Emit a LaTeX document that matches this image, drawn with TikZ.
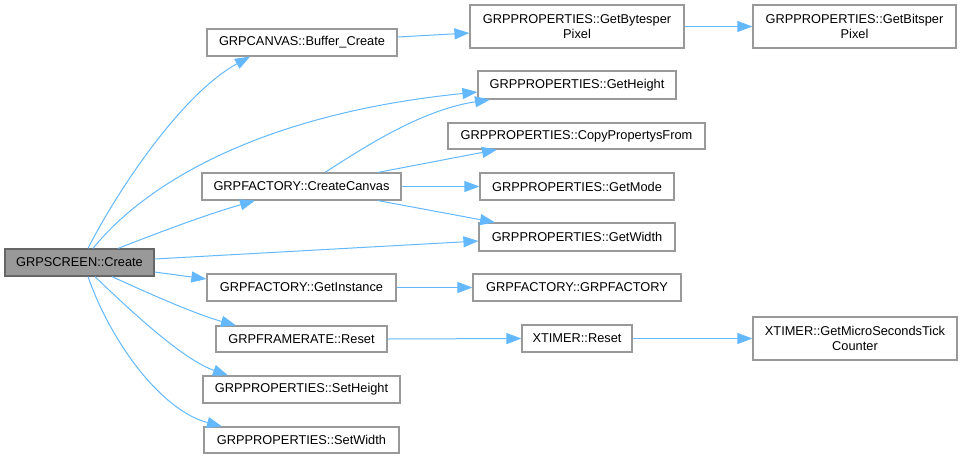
\documentclass[tikz,border=0pt]{standalone}
\usepackage{fontspec}
\setmainfont{Liberation Sans}
\usetikzlibrary{arrows.meta}
\definecolor{edgeblue}{HTML}{63B8FF}
\definecolor{boxgray}{HTML}{999999}
\definecolor{darkgray}{HTML}{666666}
\tikzset{
  fn/.style={draw=boxgray, fill=white, line width=1.2pt, inner sep=0pt, align=center,
    font=\fontsize{12.8pt}{15.5pt}\selectfont, text=black},
  root/.style={fn, fill=boxgray, draw=darkgray},
  call/.style={draw=edgeblue, line width=1pt, -{Triangle[length=15pt, width=11pt]}, fill=none},
}
\begin{document}
\begin{tikzpicture}[x=1pt, y=-1pt]
\useasboundingbox (0,0) rectangle (962,459);
% nodes
\node[root, minimum width=149pt, minimum height=27pt] (cre) at (79.5,262.5) {GRPSCREEN::Create};
\node[fn, minimum width=190pt, minimum height=27pt] (buf) at (302,42.5) {GRPCANVAS::Buffer\_Create};
\node[fn, minimum width=199pt, minimum height=27pt] (cc) at (301.5,186.5) {GRPFACTORY::CreateCanvas};
\node[fn, minimum width=189pt, minimum height=27pt] (gi) at (301.5,287.5) {GRPFACTORY::GetInstance};
\node[fn, minimum width=171pt, minimum height=26pt] (fr) at (301.5,339) {GRPFRAMERATE::Reset};
\node[fn, minimum width=197pt, minimum height=27pt] (sh) at (301.5,389.5) {GRPPROPERTIES::SetHeight};
\node[fn, minimum width=195pt, minimum height=26pt] (sw) at (301.5,440) {GRPPROPERTIES::SetWidth};
\node[fn, minimum width=214pt, minimum height=43pt] (gbp) at (577,26.5) {GRPPROPERTIES::GetBytesper\\Pixel};
\node[fn, minimum width=203pt, minimum height=43pt] (gbit) at (854.5,26.5) {GRPPROPERTIES::GetBitsper\\Pixel};
\node[fn, minimum width=198pt, minimum height=28pt] (gh) at (577,85) {GRPPROPERTIES::GetHeight};
\node[fn, minimum width=257pt, minimum height=26pt] (cpf) at (576.5,136) {GRPPROPERTIES::CopyPropertysFrom};
\node[fn, minimum width=194pt, minimum height=27pt] (gm) at (577,186.5) {GRPPROPERTIES::GetMode};
\node[fn, minimum width=196pt, minimum height=28pt] (gw) at (577,237) {GRPPROPERTIES::GetWidth};
\node[fn, minimum width=208pt, minimum height=27pt] (gf) at (577,287.5) {GRPFACTORY::GRPFACTORY};
\node[fn, minimum width=110pt, minimum height=27pt] (xr) at (577,338.5) {XTIMER::Reset};
\node[fn, minimum width=204pt, minimum height=43pt] (gmc) at (855,338.5) {XTIMER::GetMicroSecondsTick\\Counter};
% edges from GRPSCREEN::Create
\draw[call] ([xshift=8.5pt]cre.north) .. controls (115,195) and (180,95) .. ([xshift=-52pt]buf.south);
\draw[call] ([xshift=13.5pt]cre.north) .. controls (140,190) and (250,115) .. ([yshift=-7pt]gh.west);
\draw[call] ([xshift=38.5pt]cre.north) .. controls (160,232) and (205,215) .. ([xshift=-46.5pt]cc.south);
\draw[call] ([yshift=3.5pt]cre.east) -- ([yshift=-4pt]gw.west);
\draw[call] ([yshift=-9.5pt]cre.east) -- ([yshift=8.5pt]gi.west);
\draw[call] ([xshift=32.5pt]cre.south) .. controls (150,294) and (195,314) .. ([xshift=-65.5pt]fr.north);
\draw[call] ([xshift=15.5pt]cre.south) .. controls (140,320) and (185,360) .. ([xshift=-73.5pt]sh.north);
\draw[call] ([xshift=8.5pt]cre.south) .. controls (110,340) and (160,410) .. ([xshift=-79.5pt]sw.north);
% other edges
\draw[call] ([yshift=5.5pt]buf.east) -- ([yshift=-6.5pt]gbp.west);
\draw[call] (gbp.east) -- (gbit.west);
\draw[call] ([xshift=23.5pt]cc.north) .. controls (360,150) and (420,110) .. ([xshift=-87pt]gh.south);
\draw[call] ([xshift=76.5pt]cc.north) -- ([xshift=-79.5pt]cpf.south);
\draw[call] (cc.east) -- (gm.west);
\draw[call] ([xshift=76.5pt]cc.south) -- ([xshift=-82pt]gw.north);
\draw[call] (gi.east) -- (gf.west);
\draw[call] (fr.east) -- (xr.west);
\draw[call] (xr.east) -- (gmc.west);
\end{tikzpicture}
\end{document}
